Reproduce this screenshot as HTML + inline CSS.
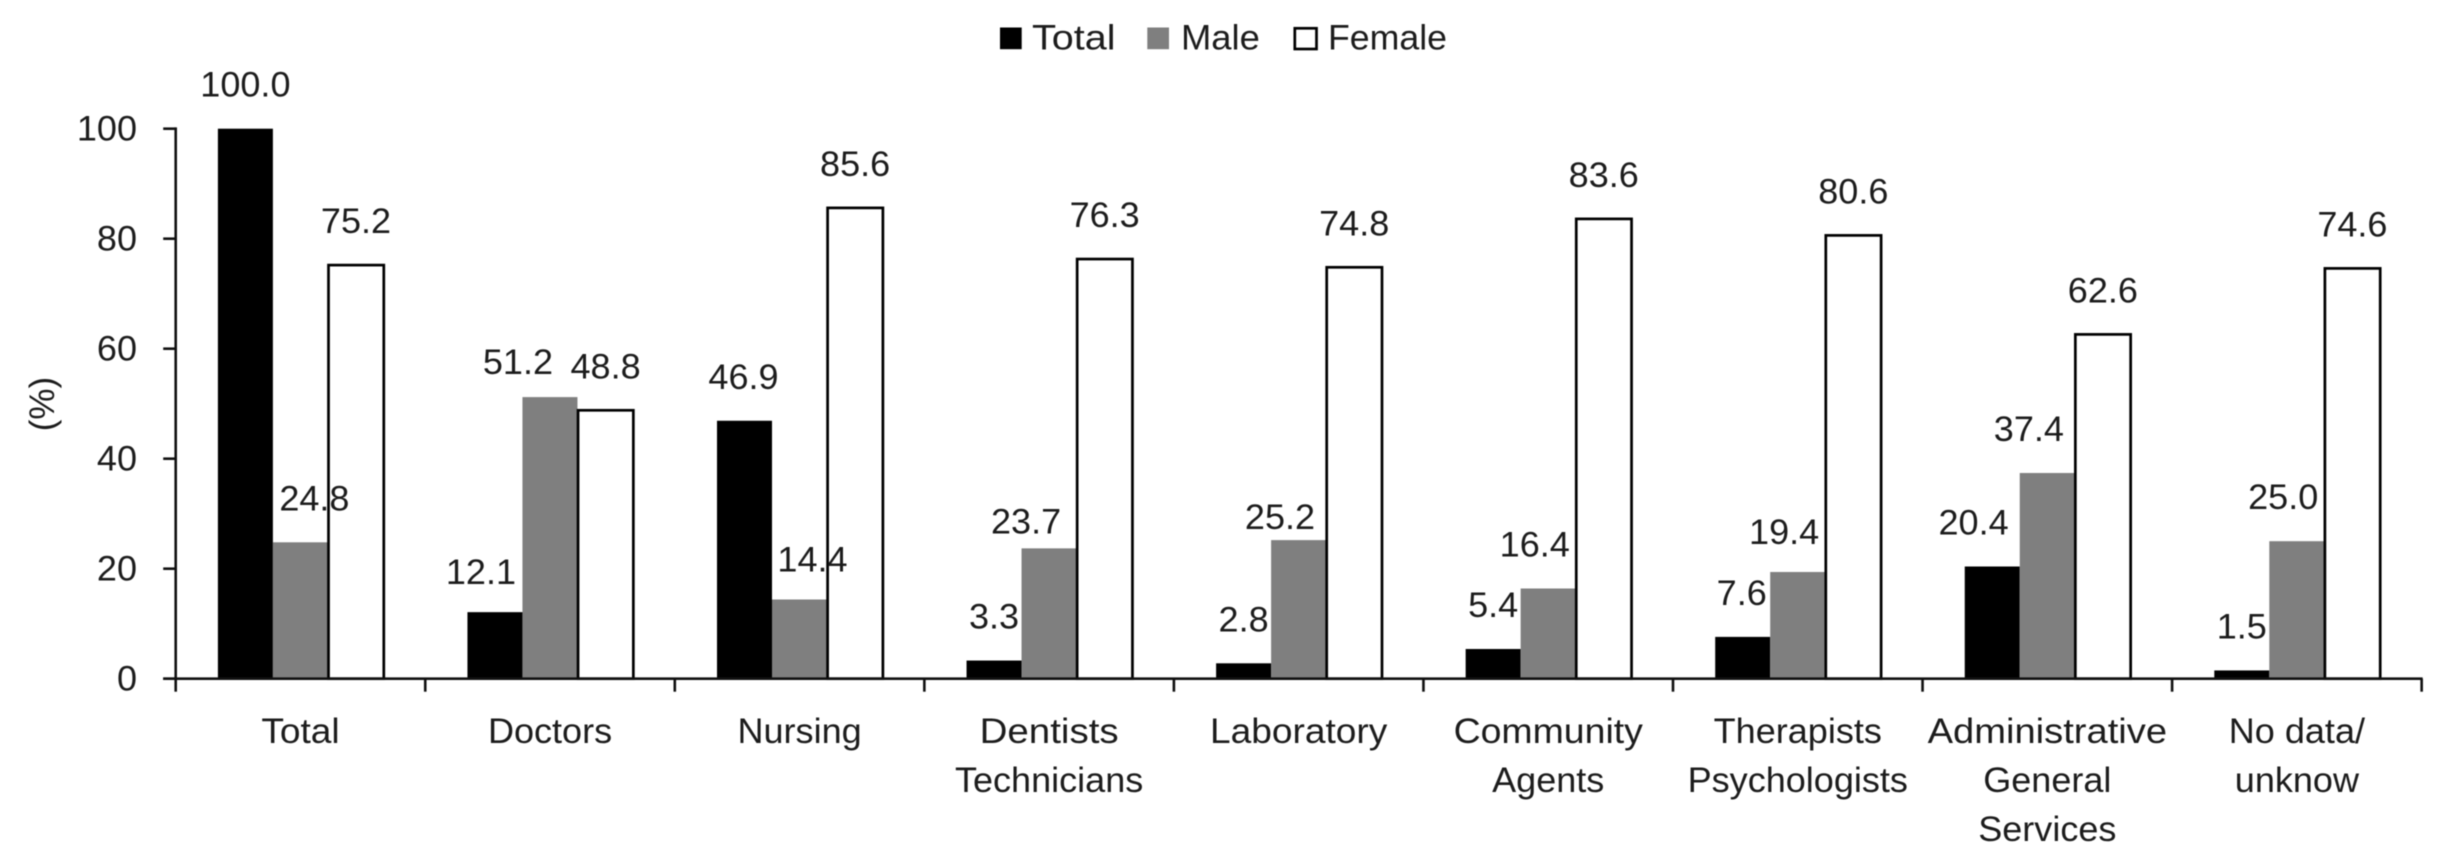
<!DOCTYPE html>
<html>
<head>
<meta charset="utf-8">
<title>Share by professional category</title>
<style>
  html,body{margin:0;padding:0;background:#fff;}
  body{width:2448px;height:867px;overflow:hidden;}
  svg{display:block;filter:blur(0.55px);}
  text{font-family:"Liberation Sans",sans-serif;font-size:35px;fill:#1c1c1c;}
</style>
</head>
<body>
<svg id="chart" width="2448" height="867" viewBox="0 0 2448 867" xmlns="http://www.w3.org/2000/svg">
  <rect x="0" y="0" width="2448" height="867" fill="#fff"/>
  <g id="marks"></g>
  <g id="axes"></g>
  <g id="labels"></g>
  <text transform="translate(54,404) rotate(-90)" text-anchor="middle">(%)</text>
  <g>
    <g>
      <rect x="1000" y="27.5" width="21.7" height="21.7" fill="#000"/>
      <text transform="translate(1032,49.3) scale(1.13,1)">Total</text>
    </g>
    <g>
      <rect x="1147.3" y="27.5" width="21.7" height="21.7" fill="#7f7f7f"/>
      <text transform="translate(1181,49.3) scale(1.04,1)">Male</text>
    </g>
    <g>
      <rect x="1294.8" y="28.3" width="21.7" height="20.7" fill="#fff" stroke="#000" stroke-width="2.7"/>
      <text transform="translate(1328,49.3) scale(1.02,1)">Female</text>
    </g>
  </g>
</svg>
<script>
const categories = [
  ["Total"], ["Doctors"], ["Nursing"],
  ["Dentists", "Technicians"], ["Laboratory"], ["Community", "Agents"],
  ["Therapists", "Psychologists"], ["Administrative", "General", "Services"], ["No data/", "unknow"]
];
const totalValues  = [100.0, 12.1, 46.9, 3.3, 2.8, 5.4, 7.6, 20.4, 1.5];
const maleValues   = [24.8, 51.2, 14.4, 23.7, 25.2, 16.4, 19.4, 37.4, 25.0];
const femaleValues = [75.2, 48.8, 85.6, 76.3, 74.8, 83.6, 80.6, 62.6, 74.6];
const yTickValues  = [0, 20, 40, 60, 80, 100];

/* manual label nudges, relative to each bar's default label anchor */
const totalNudge  = [[0,0],[-14,4],[-1,0],[0,0],[0,0],[0,0],[-1,0],[-18.7,0],[0,0]];
const maleNudge   = [[14,0],[-32,9],[13,4],[-23,17],[-18.6,21],[-13.4,0],[-13.6,4],[-18.4,0],[-13.6,0]];
const femaleNudge = [[0,0],[0,0],[0,0],[0,0],[0,0],[0,0],[0,0],[0,0],[0,0]];

/* horizontal glyph widening per label: the reference face is wider on some words */
const labelWiden = { "Administrative": 1.09, "Community": 1.07, "Laboratory": 1.06, "Dentists": 1.10, "Total": 1.06 };

const NS = "http://www.w3.org/2000/svg";
const plotLeft = 175.7, catWidth = 249.55, baseY = 678.7, unitY = 5.5;
const groupInset = 42.2, barWidth = 55, labelGap = 32;

function yScale(v) { return baseY - v * unitY; }
function xCat(i) { return plotLeft + i * catWidth; }
function make(tag, attrs, parent) {
  const el = document.createElementNS(NS, tag);
  for (const k in attrs) el.setAttribute(k, attrs[k]);
  parent.appendChild(el);
  return el;
}

const marks = document.getElementById("marks");
const axes = document.getElementById("axes");
const labels = document.getElementById("labels");

function drawSeries(values, nudges, slot, seriesName) {
  values.forEach(function (v, i) {
    const x = xCat(i) + groupInset + slot * barWidth;
    const top = yScale(v);
    let bar;
    if (slot === 2) {
      bar = make("rect", { x: x + 0.6, y: top, width: barWidth + 0.3, height: baseY - top, fill: "#fff", stroke: "#000", "stroke-width": 2.7 }, marks);
    } else {
      bar = make("rect", { x: x, y: top, width: barWidth, height: baseY - top, fill: slot === 0 ? "#000" : "#7f7f7f" }, marks);
    }
    
    
    const cx = x + barWidth / 2 + nudges[i][0] + (slot === 2 ? 0.6 : 0);
    const ly = top - labelGap + nudges[i][1];
    const t = make("text", { transform: "translate(" + cx + "," + ly + ") scale(1.03,1)", "text-anchor": "middle" }, labels);
    t.textContent = v.toFixed(1);
    
    
  });
}

drawSeries(totalValues, totalNudge, 0, "total");
drawSeries(maleValues, maleNudge, 1, "male");
drawSeries(femaleValues, femaleNudge, 2, "female");

const lineStyle = { stroke: "#111", "stroke-width": 2.6, fill: "none" };

const yAxis = make("line", Object.assign({ x1: plotLeft, x2: plotLeft, y1: yScale(100) - 1.3, y2: baseY }, lineStyle), axes);



const xAxis = make("line", Object.assign({ x1: plotLeft - 12.5, x2: xCat(categories.length) + 1, y1: baseY, y2: baseY }, lineStyle), axes);



yTickValues.forEach(function (v) {
  const y = yScale(v);
  const tick = make("line", Object.assign({ x1: plotLeft - 12.5, x2: plotLeft, y1: y, y2: y }, lineStyle), axes);
  
  
  const t = make("text", { transform: "translate(137," + (y + 11.6) + ") scale(1.03,1)", "text-anchor": "end" }, axes);
  t.textContent = String(v);
  
  
});

for (let i = 0; i <= categories.length; i++) {
  const tick = make("line", Object.assign({ x1: xCat(i), x2: xCat(i), y1: baseY, y2: baseY + 13 }, lineStyle), axes);
  
  
}

categories.forEach(function (lines, i) {
  lines.forEach(function (line, j) {
    const cx = xCat(i) + catWidth / 2;
    const sx = labelWiden[line] || 1.03;
    const t = make("text", { transform: "translate(" + cx + "," + (742.8 + j * 49) + ") scale(" + sx + ",1)", "text-anchor": "middle" }, axes);
    t.textContent = line;
    
    
  });
});
</script>
</body>
</html>
